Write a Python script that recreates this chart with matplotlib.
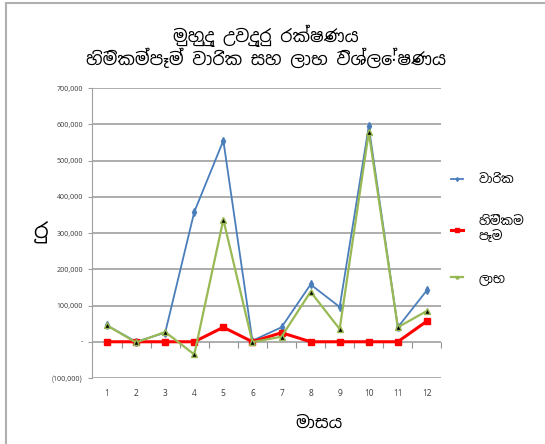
import numpy as np
import matplotlib.pyplot as plt
from matplotlib.ticker import FuncFormatter

plt.rcParams['font.family'] = ['Noto Sans Sinhala', 'DejaVu Sans']

months = ['1', '2', '3', '4', '5', '6', '7', '8', '9', '10', '11', '12']
premium = [45000, 0, 25000, 358000, 555000, 3000, 40000, 158000, 96000, 594000, 40000, 142000]
claims = [0, 0, 0, 0, 40000, 0, 25000, 0, 0, 0, 0, 57000]
profit = [45000, -2000, 27000, -35000, 337000, -1000, 14000, 138000, 35000, 578000, 40000, 85000]

title = 'මුහුදු උවදුරු රක්ෂණය\nහිමිකම්පෑම් වාරික සහ ලාභ විශ්ලේෂණය'
labels = ['වාරික', 'හිමිකම\nපෑම', 'ලාභ']

fig = plt.figure(figsize=(5.45, 4.44), dpi=100)
ax = fig.add_axes([0.1697, 0.1486, 0.6403, 0.6532])

x = np.arange(len(months))
ax.plot(x, premium, '-', color='#4a7ebb', lw=1.3, marker='d', ms=4,
        mfc='#4a7ebb', mec='#4a7ebb', label=labels[0], zorder=3)
ax.plot(x, claims, '-', color='#ff0000', lw=2.2, marker='s', ms=5,
        mfc='#ff0000', mec='#ff0000', label=labels[1], zorder=4)
ax.plot(x, profit, '-', color='#98b954', lw=1.6, marker='^', ms=4,
        mfc='black', mec='#98b954', label=labels[2], zorder=5)

# tick marks of the category axis sit on the zero line
bounds = np.arange(len(months) + 1) - 0.5
ax.plot(bounds, np.zeros_like(bounds), ls='none', marker=3, ms=4,
        color='#909090', mew=0.8, zorder=1)

ax.set_xlim(-0.5, len(months) - 0.5)
ax.set_ylim(-100000, 700000)
ax.set_yticks(np.arange(-100000, 700001, 100000))
ax.set_xticks(x)
ax.set_xticklabels(months)


def fmt(v, pos):
    if v == 0:
        return '-'
    if v < 0:
        return '({:,.0f})'.format(-v)
    return '{:,.0f}'.format(v)


ax.yaxis.set_major_formatter(FuncFormatter(fmt))
ax.grid(axis='y', color='#a0a0a0', lw=1.2)
ax.set_axisbelow(True)
for s in ['top', 'right', 'bottom']:
    ax.spines[s].set_visible(False)
ax.spines['left'].set_color('#a0a0a0')
ax.tick_params(axis='y', labelsize=5, colors='#404040', length=3, color='#a0a0a0', pad=4)
ax.tick_params(axis='x', labelsize=6, colors='#404040', length=0, pad=8)

ax.set_ylabel('රු', fontsize=15, rotation=0, va='center')
ax.yaxis.set_label_coords(-0.15, 0.5)
ax.set_xlabel('මාසය', fontsize=12)
ax.xaxis.set_label_coords(0.65, -0.13)

fig.text(0.488, 0.895, title, ha='center', va='center', fontsize=12.5,
         fontweight='bold', linespacing=1.1)

ax.legend(loc='upper left', bbox_to_anchor=(0.995, 0.745), frameon=False,
          fontsize=9, handlelength=1.0, handletextpad=1.2, labelspacing=2.3,
          markerscale=0.5)

fig.add_artist(plt.Line2D([0.011, 1.0], [0.993, 0.993], color='#b0b0b0', lw=1.5))
fig.add_artist(plt.Line2D([0.011, 0.011], [0.0, 0.993], color='#b0b0b0', lw=1.5))

fig.savefig('out.png', dpi=100)
